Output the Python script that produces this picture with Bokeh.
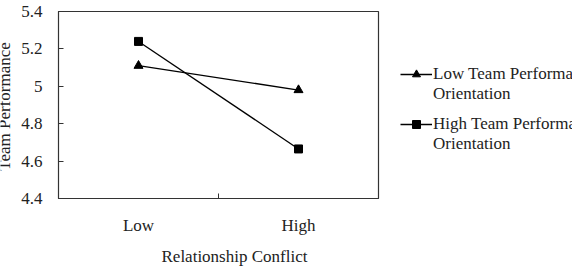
import math
from bokeh.plotting import figure
from bokeh.models import FixedTicker, Range1d, Legend, LegendItem, Title, Label
from bokeh.layouts import row
from bokeh.embed import file_html
from bokeh.resources import INLINE

categories = ["Low", "High"]
low_orient = [5.11, 4.98]
high_orient = [5.24, 4.665]
y_ticks = [4.4, 4.6, 4.8, 5.0, 5.2, 5.4]
y_tick_labels = ["4.4", "4.6", "4.8", "5", "5.2", "5.4"]
series_line1 = ["Low Team Performance", "High Team Performance"]
series_line2 = ["Orientation", "Orientation"]
x_title = "Relationship Conflict"
y_title = "Team Performance"

FONT = "Liberation Serif"
FS = "17px"
TXT = "#222222"
AX = "#333333"
xs = [i + 0.5 for i in range(len(categories))]

def bare(fig):
    fig.axis.visible = False
    fig.xgrid.visible = False
    fig.ygrid.visible = False
    fig.outline_line_color = None
    fig.border_fill_color = "white"

# narrow strip holding the y title (clipped at the window edge like the reference)
yl = figure(width=16, height=274, output_backend="svg", toolbar_location=None,
            x_range=Range1d(0, 1), y_range=Range1d(0, 1),
            min_border_left=0, min_border_right=0, min_border_top=11, min_border_bottom=76)
bare(yl)
yl.add_layout(Label(x=4, y=92, x_units="screen", y_units="screen", text=y_title,
                    angle=math.pi / 2, text_align="center", text_baseline="alphabetic",
                    text_font=FONT, text_font_size=FS, text_color=TXT))

p = figure(width=364, height=274, output_backend="svg", toolbar_location=None,
           x_range=Range1d(0, len(categories)), y_range=Range1d(4.4, 5.4),
           min_border_left=42, min_border_right=2, min_border_top=11, min_border_bottom=76)
p.xgrid.visible = False
p.ygrid.visible = False
p.outline_line_color = AX
p.outline_line_width = 1.2
p.border_fill_color = "white"

p.line(xs, low_orient, line_color="black", line_width=1.3)
p.scatter(xs, low_orient, marker="triangle", size=9, color="black")
p.line(xs, high_orient, line_color="black", line_width=1.3)
p.scatter(xs, high_orient, marker="square", size=8, color="black")

# x axis
p.xaxis.ticker = FixedTicker(ticks=xs, minor_ticks=[1.0])
p.xaxis.major_label_overrides = {x: c for x, c in zip(xs, categories)}
p.xaxis.major_tick_in = 0
p.xaxis.major_tick_out = 0
p.xaxis.minor_tick_in = 5
p.xaxis.minor_tick_out = 0
p.xaxis.minor_tick_line_color = AX

# y axis
p.yaxis.ticker = FixedTicker(ticks=y_ticks)
p.yaxis.major_label_overrides = {t: l for t, l in zip(y_ticks, y_tick_labels)}
p.yaxis.major_tick_in = 5
p.yaxis.major_tick_out = 0
p.yaxis.minor_tick_line_color = None

for ax in (p.xaxis[0], p.yaxis[0]):
    ax.axis_line_color = AX
    ax.major_tick_line_color = AX
    ax.major_label_text_font = FONT
    ax.major_label_text_font_size = FS
    ax.major_label_text_color = TXT

p.xaxis.major_label_standoff = 17
p.yaxis.major_label_standoff = 16

t = Title(text=x_title, align="left", offset=103, text_font=FONT, text_font_size=FS,
          text_font_style="normal", text_color=TXT, standoff=14)
p.add_layout(t, "below")

# legend panel (clipped at the window edge like the reference)
q = figure(width=192, height=274, output_backend="svg", toolbar_location=None,
           x_range=Range1d(0, 1), y_range=Range1d(0, 1),
           min_border_left=0, min_border_right=0, min_border_top=11, min_border_bottom=76)
bare(q)

# renderers for the legend glyphs (their data lie outside this panel's range)
l1 = q.line(xs, low_orient, line_color="black", line_width=1.3)
s1 = q.scatter(xs, low_orient, marker="triangle", size=9, color="black")
l2 = q.line(xs, high_orient, line_color="black", line_width=1.3)
s2 = q.scatter(xs, high_orient, marker="square", size=8, color="black")
blank = q.line(xs, low_orient, line_alpha=0)

def make_legend(line1, line2, rends, loc):
    lg = Legend(items=[LegendItem(label=line1, renderers=rends),
                       LegendItem(label=line2, renderers=[blank])],
                location=loc)
    lg.label_text_font = FONT
    lg.label_text_font_size = FS
    lg.label_text_color = TXT
    lg.border_line_color = None
    lg.background_fill_alpha = 0
    lg.glyph_width = 32
    lg.glyph_height = 20
    lg.label_height = 20
    lg.label_standoff = 1
    lg.spacing = 0
    lg.padding = 0
    lg.margin = 0
    return lg

q.add_layout(make_legend(series_line1[0], series_line2[0], [l1, s1], (20, 94)))
q.add_layout(make_legend(series_line1[1], series_line2[1], [l2, s2], (20, 44)))

layout = row(yl, p, q, spacing=0)
open("out.html", "w").write(file_html(layout, INLINE))
